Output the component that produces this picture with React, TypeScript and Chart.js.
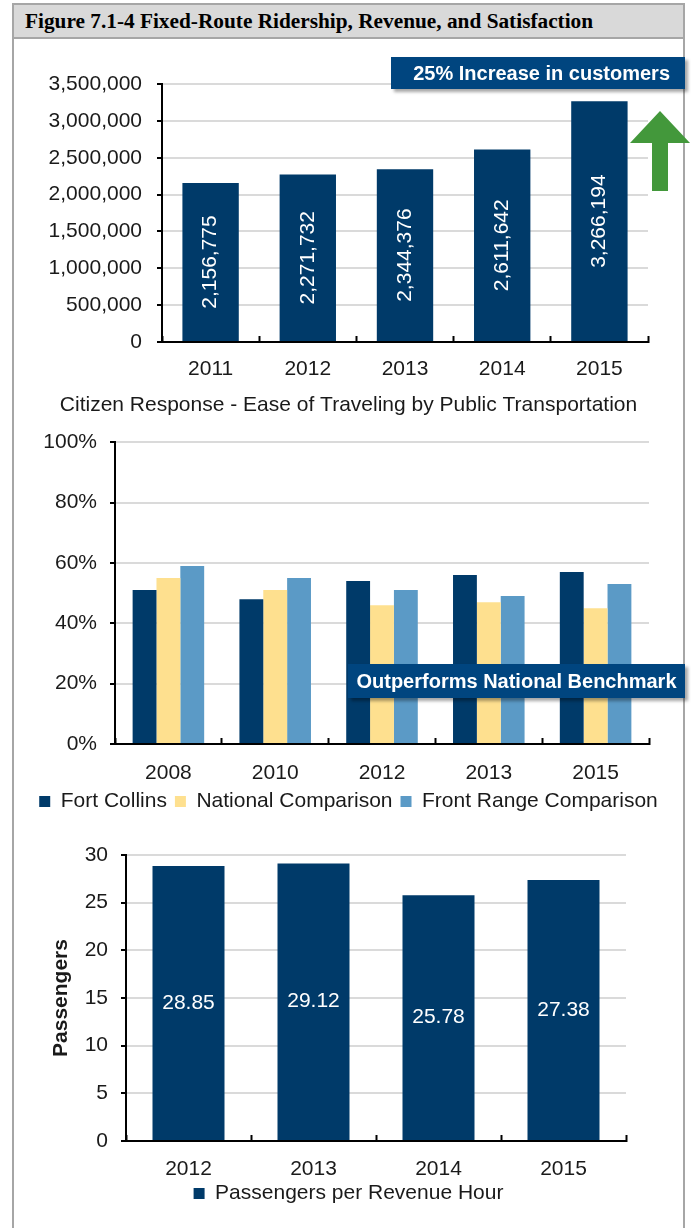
import React, { useEffect, useRef } from "react";
import { Chart, registerables } from "chart.js";

Chart.register(...registerables);

// ---------- data ----------
const figureTitle = "Figure 7.1-4 Fixed-Route Ridership, Revenue, and Satisfaction";

const ridershipYears = ["2011", "2012", "2013", "2014", "2015"];
const ridershipCustomers = [2156775, 2271732, 2344376, 2611642, 3266194];
const ridershipCallout = "25% Increase in customers";

const surveyTitle = "Citizen Response - Ease of Traveling by Public Transportation";
const surveyYears = ["2008", "2010", "2012", "2013", "2015"];
const surveySeriesNames = ["Fort Collins", "National Comparison", "Front Range Comparison"];
const fortCollinsPct = [51, 48, 54, 56, 57];
const nationalPct = [55, 51, 46, 47, 45];
const frontRangePct = [59, 55, 51, 49, 53];
const surveyCallout = "Outperforms National Benchmark";

const productivityYears = ["2012", "2013", "2014", "2015"];
const productivitySeriesName = "Passengers per Revenue Hour";
const passengersPerHour = [28.85, 29.12, 25.78, 27.38];
const productivityAxisTitle = "Passengers";

// ---------- styles ----------
const SANS = "'Liberation Sans', Arial, Helvetica, sans-serif";
const SERIF = "'Liberation Serif', 'Times New Roman', serif";
const NAVY = "#003a69";
const YELLOW = "#fee08f";
const LIGHTBLUE = "#5b9ac6";
const CALLOUT = "#00457f";
const GRID = "#dadada";
const TEXT = "#1a1a1a";
const FRAME = "#a6a6a6";

const valueLabels = {
  id: "valueLabels",
  afterDatasetsDraw(chart: any, _args: any, opts: any) {
    if (!opts || !opts.display) return;
    const ctx = chart.ctx;
    const meta = chart.getDatasetMeta(0);
    const data = chart.data.datasets[0].data as number[];
    ctx.save();
    ctx.fillStyle = "#ffffff";
    ctx.font = `${opts.size}px ${SANS}`;
    ctx.textAlign = "center";
    ctx.textBaseline = "middle";
    meta.data.forEach((el: any, i: number) => {
      const v = data[i];
      const text = opts.kind === "thousands" ? v.toLocaleString("en-US") : v.toFixed(2);
      const cy = (el.y + el.base) / 2;
      ctx.save();
      ctx.translate(el.x, cy);
      if (opts.rotate) ctx.rotate(-Math.PI / 2);
      ctx.fillText(text, 0, 0);
      ctx.restore();
    });
    ctx.restore();
  },
};

const tickFont = { family: SANS, size: 21 };

function xAxis(height: number, padding: number) {
  return {
    grid: {
      display: true,
      drawOnChartArea: false,
      offset: true,
      tickLength: -6,
      tickColor: "#000",
      tickWidth: 2,
    },
    border: { color: "#000", width: 2 },
    ticks: { color: TEXT, font: tickFont, padding },
    afterFit: (s: any) => {
      s.height = height;
    },
  };
}

function yAxis(width: number, padding: number, extra: any) {
  return {
    ...extra,
    grid: { color: GRID, lineWidth: 2, tickColor: "#000", tickLength: 5, tickWidth: 2 },
    border: { color: "#000", width: 2 },
    ticks: { ...extra.ticks, color: TEXT, font: tickFont, padding },
    afterFit: (s: any) => {
      s.width = width;
    },
  };
}

function spacerAxis(width: number) {
  return {
    position: "right",
    display: true,
    grid: { display: false, drawTicks: false },
    border: { display: false },
    ticks: { display: false },
    afterFit: (s: any) => {
      s.width = width;
    },
  };
}

function ChartCanvas({ left, top, width, height, make }: any) {
  const ref = useRef<HTMLCanvasElement>(null);
  useEffect(() => {
    const chart = new Chart(ref.current as HTMLCanvasElement, make());
    return () => chart.destroy();
  }, []);
  return (
    <canvas
      ref={ref}
      width={width}
      height={height}
      style={{ position: "absolute", left, top, width, height }}
    />
  );
}

const ridershipConfig = (): any => ({
  type: "bar",
  data: {
    labels: ridershipYears,
    datasets: [
      {
        label: "Customers",
        data: ridershipCustomers,
        backgroundColor: NAVY,
        categoryPercentage: 1,
        barPercentage: 0.58,
      },
    ],
  },
  plugins: [valueLabels],
  options: {
    animation: false,
    responsive: false,
    maintainAspectRatio: false,
    layout: { padding: { top: 43, right: 35, left: 0, bottom: 0 } },
    plugins: {
      legend: { display: false },
      tooltip: { enabled: false },
      valueLabels: { display: true, rotate: true, size: 21, kind: "thousands" },
    },
    scales: {
      x: xAxis(50, 21),
      y: yAxis(148, 15, {
        min: 0,
        max: 3500000,
        ticks: {
          stepSize: 500000,
          callback: (v: any) => Number(v).toLocaleString("en-US"),
        },
      }),
    },
  },
});

const surveyConfig = (): any => ({
  type: "bar",
  data: {
    labels: surveyYears,
    datasets: [
      { label: surveySeriesNames[0], data: fortCollinsPct, backgroundColor: NAVY },
      { label: surveySeriesNames[1], data: nationalPct, backgroundColor: YELLOW },
      { label: surveySeriesNames[2], data: frontRangePct, backgroundColor: LIGHTBLUE },
    ].map((d) => ({ ...d, categoryPercentage: 0.67, barPercentage: 1 })),
  },
  options: {
    animation: false,
    responsive: false,
    maintainAspectRatio: false,
    layout: { padding: { top: 0, right: 0, left: 0, bottom: 0 } },
    plugins: {
      title: {
        display: true,
        text: surveyTitle,
        color: TEXT,
        font: { family: SANS, size: 21, weight: "normal" },
        padding: { top: 1, bottom: 24 },
      },
      legend: {
        display: true,
        position: "bottom",
        labels: {
          color: TEXT,
          font: { family: SANS, size: 21 },
          boxWidth: 11,
          boxHeight: 11,
          padding: 8,
        },
      },
      tooltip: { enabled: false },
    },
    scales: {
      x: xAxis(39, 23),
      y: yAxis(101, 13, {
        min: 0,
        max: 100,
        ticks: { stepSize: 20, callback: (v: any) => `${v}%` },
      }),
      spacer: spacerAxis(34),
    },
  },
});

const productivityConfig = (): any => ({
  type: "bar",
  data: {
    labels: productivityYears,
    datasets: [
      {
        label: productivitySeriesName,
        data: passengersPerHour,
        backgroundColor: NAVY,
        categoryPercentage: 1,
        barPercentage: 0.576,
      },
    ],
  },
  plugins: [valueLabels],
  options: {
    animation: false,
    responsive: false,
    maintainAspectRatio: false,
    layout: { padding: { top: 35, right: 0, left: 0, bottom: 11 } },
    plugins: {
      legend: {
        display: true,
        position: "bottom",
        labels: {
          color: TEXT,
          font: { family: SANS, size: 21 },
          boxWidth: 11,
          boxHeight: 11,
          padding: 8,
        },
      },
      tooltip: { enabled: false },
      valueLabels: { display: true, rotate: false, size: 21, kind: "fixed" },
    },
    scales: {
      x: xAxis(34, 22),
      y: yAxis(112, 13, {
        min: 0,
        max: 30,
        ticks: { stepSize: 5 },
        title: {
          display: true,
          text: productivityAxisTitle,
          color: TEXT,
          font: { family: SANS, size: 21, weight: "bold" },
          padding: { top: 35, bottom: 0 },
        },
      }),
      spacer: spacerAxis(57),
    },
  },
});

export default function App() {
  return (
    <div
      style={{
        position: "absolute",
        left: 0,
        top: 0,
        width: 691,
        height: 1228,
        background: "#fff",
        overflow: "hidden",
        fontFamily: SANS,
      }}
    >
      {/* frame */}
      <div
        style={{
          position: "absolute",
          left: 12,
          top: 3,
          width: 673,
          height: 1240,
          boxSizing: "border-box",
          border: `2px solid ${FRAME}`,
        }}
      />
      {/* title bar */}
      <div
        style={{
          position: "absolute",
          left: 14,
          top: 5,
          width: 658,
          height: 32,
          background: "#d9d9d9",
          borderBottom: `2px solid ${FRAME}`,
          fontFamily: SERIF,
          fontWeight: "bold",
          fontSize: 21.3,
          lineHeight: "32px",
          color: "#000",
          paddingLeft: 11,
          boxSizing: "content-box",
          whiteSpace: "nowrap",
        }}
      >
        {figureTitle}
      </div>

      <ChartCanvas left={14} top={41} width={669} height={351} make={ridershipConfig} />
      <ChartCanvas left={14} top={392} width={669} height={430} make={surveyConfig} />
      <ChartCanvas left={14} top={820} width={669} height={405} make={productivityConfig} />

      {/* callout 1 */}
      <div
        style={{
          position: "absolute",
          left: 391,
          top: 57,
          width: 294,
          height: 32,
          background: CALLOUT,
          boxShadow: "3px 3px 3px rgba(0,0,0,0.35)",
          color: "#fff",
          fontWeight: "bold",
          fontSize: 20,
          lineHeight: "32px",
          textAlign: "right",
          paddingRight: 15,
          boxSizing: "border-box",
          whiteSpace: "nowrap",
        }}
      >
        {ridershipCallout}
      </div>
      {/* green arrow */}
      <svg
        style={{ position: "absolute", left: 0, top: 0 }}
        width={691}
        height={200}
        viewBox="0 0 691 200"
      >
        <polygon
          points="660,111 690,143 668,143 668,191 652,191 652,143 630,143"
          fill="#43983b"
        />
      </svg>
      {/* callout 2 */}
      <div
        style={{
          position: "absolute",
          left: 348,
          top: 664,
          width: 337,
          height: 34,
          background: CALLOUT,
          boxShadow: "3px 3px 3px rgba(0,0,0,0.35)",
          color: "#fff",
          fontWeight: "bold",
          fontSize: 20,
          lineHeight: "34px",
          textAlign: "center",
          boxSizing: "border-box",
          whiteSpace: "nowrap",
        }}
      >
        {surveyCallout}
      </div>
    </div>
  );
}
